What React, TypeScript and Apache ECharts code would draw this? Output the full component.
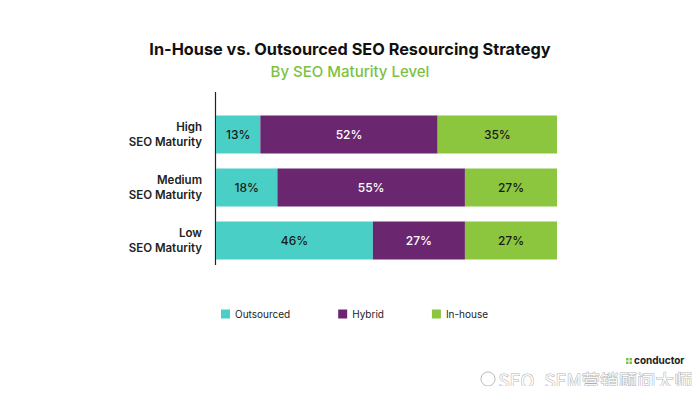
import React, { useEffect, useRef } from "react";
import * as echarts from "echarts";

const categories = ["Low\nSEO Maturity", "Medium\nSEO Maturity", "High\nSEO Maturity"];
const seriesNames = ["Outsourced", "Hybrid", "In-house"];
const outsourced = [46, 18, 13];
const hybrid = [27, 55, 52];
const inhouse = [27, 27, 35];
const colors = ["#4ACFC6", "#6A2770", "#8CC63E"];
const labelColors = ["#1a1a1a", "#ffffff", "#1a1a1a"];

export default function App() {
  const ref = useRef<HTMLDivElement>(null);
  useEffect(() => {
    if (!ref.current) return;
    const chart = echarts.init(ref.current, null, { renderer: "svg" });
    const values = [outsourced, hybrid, inhouse];
    chart.setOption({
      animation: false,
      backgroundColor: "#ffffff",
      textStyle: { fontFamily: "Inter" },
      title: {
        text: "In-House vs. Outsourced SEO Resourcing Strategy",
        subtext: "By SEO Maturity Level",
        left: "center",
        top: 36,
        itemGap: 7,
        textStyle: { fontFamily: "Inter", fontSize: 16.3, fontWeight: 700, color: "#111111" },
        subtextStyle: { fontFamily: "Inter", fontSize: 15, fontWeight: 500, color: "#7DC142" },
      },
      legend: {
        data: seriesNames,
        left: 216,
        top: 304,
        itemWidth: 9,
        itemHeight: 9,
        itemGap: 48,
        icon: "rect",
        textStyle: { fontFamily: "Inter", fontSize: 10, color: "#222222" },
      },
      grid: { left: 216, right: 143, top: 108, height: 159 },
      xAxis: {
        type: "value",
        min: 0,
        max: 100,
        show: false,
      },
      yAxis: {
        type: "category",
        data: categories,
        axisLine: { show: false },
        axisTick: { show: false },
        axisLabel: {
          margin: 14,
          fontFamily: "Inter",
          fontSize: 11.5,
          fontWeight: 600,
          color: "#222222",
          lineHeight: 15,
          align: "right",
        },
      },
      series: seriesNames.map((name, i) => ({
        name,
        type: "bar",
        stack: "total",
        barWidth: 38,
        data: values[i],
        itemStyle: { color: colors[i] },
        label: {
          show: true,
          position: "inside",
          formatter: "{c}%",
          fontFamily: "Inter",
          fontSize: 12,
          fontWeight: 500,
          color: labelColors[i],
        },
      })),
      graphic: [
        {
          type: "line",
          shape: { x1: 215.5, y1: 92, x2: 215.5, y2: 265 },
          style: { stroke: "#222222", lineWidth: 1.2 },
        },
        {
          type: "group",
          left: 626,
          top: 355,
          children: [
            { type: "rect", shape: { x: 0, y: 0, width: 2.5, height: 2.5 }, style: { fill: "#7DC142" } },
            { type: "rect", shape: { x: 3.5, y: 0, width: 2.5, height: 2.5 }, style: { fill: "#7DC142" } },
            { type: "rect", shape: { x: 0, y: 3.5, width: 2.5, height: 2.5 }, style: { fill: "#7DC142" } },
            { type: "rect", shape: { x: 3.5, y: 3.5, width: 2.5, height: 2.5 }, style: { fill: "#7DC142" } },
            {
              type: "text",
              x: 8,
              y: -3,
              style: { text: "conductor", fontFamily: "Inter", fontSize: 10, fontWeight: 700, fill: "#222222" },
            },
          ],
        },
        {
          type: "circle",
          shape: { cx: 488, cy: 379, r: 7 },
          style: { fill: "rgba(255,255,255,0.9)", stroke: "rgba(120,120,120,0.5)", lineWidth: 1 },
        },
        {
          type: "text",
          left: 498,
          top: 370,
          style: {
            text: "SEO_SEM营销顾问大师",
            fontFamily: "Noto Sans CJK SC",
            fontSize: 18.5,
            fill: "rgba(255,255,255,0.9)",
            stroke: "rgba(120,120,120,0.6)",
            lineWidth: 1,
          },
        },
      ],
    });
    return () => chart.dispose();
  }, []);
  return <div ref={ref} style={{ width: 700, height: 394, margin: -8 }} />;
}
